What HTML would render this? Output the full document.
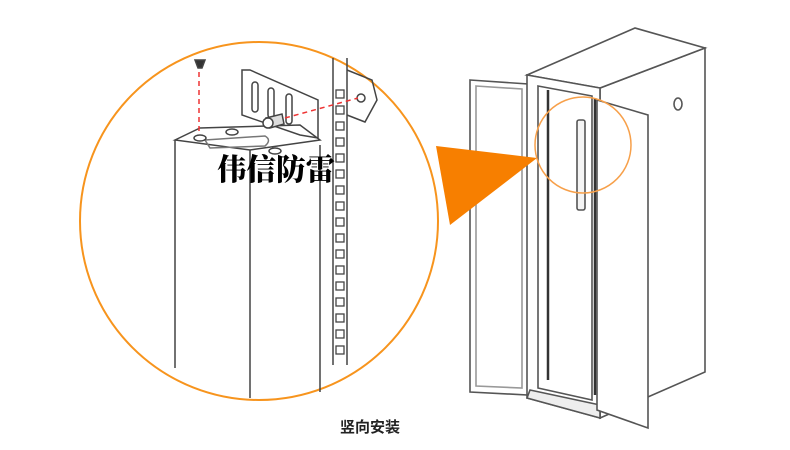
<!DOCTYPE html>
<html><head><meta charset="utf-8"><style>
html,body{margin:0;padding:0;background:#fff;width:790px;height:450px;overflow:hidden}
svg{display:block}
</style></head><body>
<svg width="790" height="450" viewBox="0 0 790 450" xmlns="http://www.w3.org/2000/svg">
<!-- big circle -->
<circle cx="259" cy="221" r="179" fill="#fff" stroke="#f7941d" stroke-width="2"/>
<g stroke="#444" stroke-width="1.5" fill="none">
<line x1="175" y1="140" x2="175" y2="368"/>
<line x1="250" y1="150" x2="250" y2="398"/>
<line x1="320" y1="145" x2="320" y2="392"/>
<path d="M175,140 L200,128 L300,125 L320,140 L250,150 Z"/>
<path d="M205,140 L265,136 Q272,140 265,146 L210,148 Z" stroke="#777"/>
<ellipse cx="200" cy="138" rx="6" ry="3"/>
<ellipse cx="232" cy="132" rx="6" ry="3"/>
<ellipse cx="275" cy="151" rx="6" ry="3"/>
<path d="M242,70 L242,115 L300,135 L318,138 L318,100 L250,70 Z"/>
<rect x="252" y="82" width="6" height="30" rx="3"/>
<rect x="268" y="88" width="6" height="30" rx="3"/>
<rect x="286" y="94" width="6" height="30" rx="3"/>
<line x1="333" y1="58" x2="333" y2="365"/>
<line x1="347" y1="58" x2="347" y2="365"/>
<path d="M347,70 L372,80 L377,100 L365,122 L347,115"/>
<circle cx="361" cy="98" r="4"/>
<path d="M266,118 L282,114 L284,124 L270,128 Z" fill="#ddd"/>
<circle cx="268" cy="123" r="5" fill="#fff"/>
<path d="M195,60 L205,60 L202,68 L198,68 Z" fill="#333"/>
</g>
<g fill="none" stroke="#444" stroke-width="1.3">
<rect x="336" y="90" width="8" height="8"/><rect x="336" y="106" width="8" height="8"/>
<rect x="336" y="122" width="8" height="8"/><rect x="336" y="138" width="8" height="8"/>
<rect x="336" y="154" width="8" height="8"/><rect x="336" y="170" width="8" height="8"/>
<rect x="336" y="186" width="8" height="8"/><rect x="336" y="202" width="8" height="8"/>
<rect x="336" y="218" width="8" height="8"/><rect x="336" y="234" width="8" height="8"/>
<rect x="336" y="250" width="8" height="8"/><rect x="336" y="266" width="8" height="8"/>
<rect x="336" y="282" width="8" height="8"/><rect x="336" y="298" width="8" height="8"/>
<rect x="336" y="314" width="8" height="8"/><rect x="336" y="330" width="8" height="8"/>
<rect x="336" y="346" width="8" height="8"/>
</g>
<g stroke="#e33" stroke-width="1.5" stroke-dasharray="5,4" fill="none">
<line x1="199" y1="72" x2="199" y2="135"/>
<line x1="285" y1="118" x2="358" y2="98"/>
</g>
<text x="217" y="180" font-family="'Liberation Serif','Noto Serif CJK SC',serif" font-weight="900" font-size="30" fill="#000" textLength="118" lengthAdjust="spacingAndGlyphs">伟信防雷</text>

<!-- cabinet -->
<g stroke="#555" stroke-width="1.6" fill="#fff">
<polygon points="470,80 528,84 528,395 470,392"/>
<polygon points="476,86 522,89 522,388 476,386" fill="none" stroke="#999"/>
<polygon points="600,88 705,48 705,372 600,418"/>
<polygon points="527,75 635,28 705,48 600,88"/>
<polygon points="527,75 600,88 600,418 527,398"/>
<polygon points="538,86 592,96 592,400 538,388" fill="none"/>
<line x1="548" y1="90" x2="548" y2="380" stroke="#333" stroke-width="2.5"/>
<line x1="595" y1="98" x2="595" y2="395" stroke="#333" stroke-width="2.5"/>
<polygon points="530,390 600,405 600,418 527,398" fill="#eee"/>
<polygon points="597,100 648,115 648,428 597,410"/>
<rect x="577" y="120" width="8" height="90" rx="2" fill="#f4f4f4"/>
<ellipse cx="678" cy="104" rx="4" ry="6" fill="none"/>
</g>
<!-- orange pointer triangle -->
<polygon points="436,146 537,158 450,225" fill="#f77f00"/>
<circle cx="583" cy="145" r="48" fill="none" stroke="#f7a04a" stroke-width="1.5"/>

<text x="340" y="432" font-family="'Liberation Sans','Noto Sans CJK SC',sans-serif" font-weight="bold" font-size="15" fill="#222">竖向安装</text>
</svg>
</body></html>
